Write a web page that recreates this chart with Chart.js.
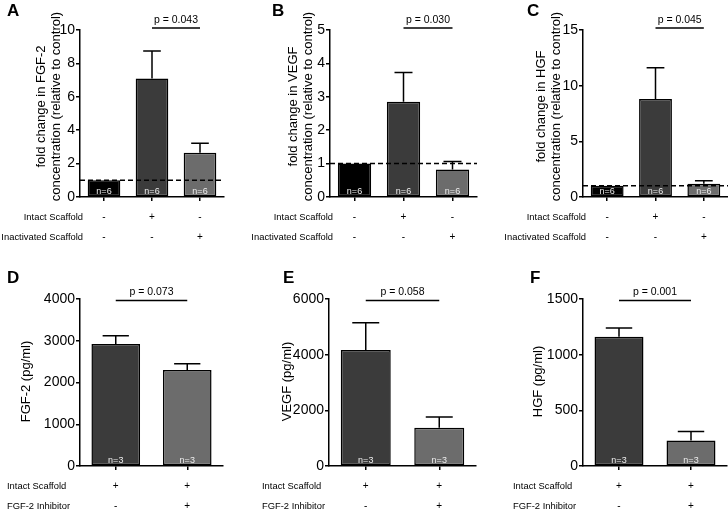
<!DOCTYPE html>
<html>
<head>
<meta charset="utf-8">
<script src="https://cdn.jsdelivr.net/npm/chart.js@4.4.1/dist/chart.umd.min.js"></script>
<style>
  html, body { margin: 0; padding: 0; background: #fff; }
  .figure { position: relative; width: 728px; height: 511px; overflow: hidden; }
  .figure canvas { position: absolute; }
</style>
</head>
<body>
<div class="figure">
  <canvas id="chartA" width="243" height="255" style="left:0;top:0"></canvas>
  <canvas id="chartB" width="243" height="255" style="left:243px;top:0"></canvas>
  <canvas id="chartC" width="242" height="255" style="left:486px;top:0"></canvas>
  <canvas id="chartD" width="243" height="256" style="left:0;top:255px"></canvas>
  <canvas id="chartE" width="243" height="256" style="left:243px;top:255px"></canvas>
  <canvas id="chartF" width="242" height="256" style="left:486px;top:255px"></canvas>
</div>
<script>
// top row: fold change vs control
const topGroups = ['control', 'intact', 'inactivated'];
const topRowLabels = ['Intact Scaffold', 'Inactivated Scaffold'];
const topIntactSigns = ['-', '+', '-'];
const topInactivatedSigns = ['-', '-', '+'];
const topCounts = ['n=6', 'n=6', 'n=6'];

const fgfFold = [1.0, 7.1, 2.65];
const fgfFoldErr = [0, 1.65, 0.57];
const vegfFold = [1.0, 2.85, 0.82];
const vegfFoldErr = [0, 0.88, 0.24];
const hgfFold = [1.0, 8.8, 1.2];
const hgfFoldErr = [0, 2.8, 0.25];

const fgfFoldTicks = [0, 2, 4, 6, 8, 10];
const vegfFoldTicks = [0, 1, 2, 3, 4, 5];
const hgfFoldTicks = [0, 5, 10, 15];

const topPValues = ['0.043', '0.030', '0.045'];
const topCompared = [1, 2];
const foldReference = 1;

// bottom row: absolute concentrations
const bottomGroups = ['scaffold', 'scaffold + inhibitor'];
const bottomRowLabels = ['Intact Scaffold', 'FGF-2 Inhibitor'];
const bottomIntactSigns = ['+', '+'];
const bottomInhibitorSigns = ['-', '+'];
const bottomCounts = ['n=3', 'n=3'];

const fgfConc = [2920, 2300];
const fgfConcErr = [200, 150];
const vegfConc = [4170, 1370];
const vegfConcErr = [980, 390];
const hgfConc = [1160, 230];
const hgfConcErr = [80, 80];

const fgfConcTicks = [0, 1000, 2000, 3000, 4000];
const vegfConcTicks = [0, 2000, 4000, 6000];
const hgfConcTicks = [0, 500, 1000, 1500];

const bottomPValues = ['0.073', '0.058', '0.001'];
const bottomCompared = [0, 1];

const FONT = '"Liberation Sans", Arial, Helvetica, sans-serif';
const topFills = ['#000000', '#3b3b3b', '#6c6c6c'];
const bottomFills = ['#3b3b3b', '#6c6c6c'];

Chart.defaults.font.family = FONT;
Chart.defaults.color = '#000';

const makeOverlay = (panel) => ({
  id: `overlay${panel.letter}`,
  afterDatasetsDraw(chart) {
    const { ctx, chartArea, scales } = chart;
    const xs = scales.x;
    const ys = scales.y;
    const meta = chart.getDatasetMeta(0);
    ctx.save();
    ctx.strokeStyle = '#000';
    ctx.lineWidth = 1.5;

    // dashed control level
    if (panel.reference !== undefined) {
      const yRef = ys.getPixelForValue(panel.reference);
      ctx.setLineDash([5, 3]);
      ctx.beginPath();
      ctx.moveTo(chartArea.left, yRef);
      ctx.lineTo(chartArea.right, yRef);
      ctx.stroke();
      ctx.setLineDash([]);
    }

    // upper SEM bars
    panel.values.forEach((v, i) => {
      const err = panel.errors[i];
      if (!err) return;
      const cx = xs.getPixelForValue(i);
      const half = meta.data[i].width * 0.27;
      const yBar = ys.getPixelForValue(v);
      const yTop = ys.getPixelForValue(v + err);
      ctx.beginPath();
      ctx.moveTo(cx, yBar);
      ctx.lineTo(cx, yTop);
      ctx.moveTo(cx - half, yTop);
      ctx.lineTo(cx + half, yTop);
      ctx.stroke();
    });

    // group sizes inside bars
    const yZero = ys.getPixelForValue(0);
    ctx.font = `9px ${FONT}`;
    ctx.fillStyle = '#ededed';
    ctx.textAlign = 'center';
    ctx.textBaseline = 'middle';
    panel.counts.forEach((n, i) => {
      ctx.fillText(n, xs.getPixelForValue(i), yZero - 5);
    });

    // significance bracket
    const yBracket = chartArea.top + panel.bracketShift;
    const x1 = xs.getPixelForValue(panel.compared[0]);
    const x2 = xs.getPixelForValue(panel.compared[1]);
    ctx.beginPath();
    ctx.moveTo(x1, yBracket);
    ctx.lineTo(x2, yBracket);
    ctx.stroke();
    ctx.fillStyle = '#000';
    ctx.font = `10.5px ${FONT}`;
    ctx.fillText(`p = ${panel.pValue}`, (x1 + x2) / 2, yBracket - 8);

    // treatment rows below the axis
    const rowY = [chartArea.bottom + 20, chartArea.bottom + 40];
    panel.rows.forEach((signs, r) => {
      ctx.font = `10px ${FONT}`;
      ctx.textAlign = 'center';
      signs.forEach((s, i) => {
        ctx.fillText(s, xs.getPixelForValue(i), rowY[r]);
      });
      ctx.font = `9.4px ${FONT}`;
      if (panel.rowAlign === 'right') {
        ctx.textAlign = 'right';
        ctx.fillText(panel.rowLabels[r], chartArea.left + 3, rowY[r]);
      } else {
        ctx.textAlign = 'left';
        ctx.fillText(panel.rowLabels[r], panel.rowLeft, rowY[r]);
      }
    });

    // y axis title, rotated
    const titleLines = Array.isArray(panel.title) ? panel.title : [panel.title];
    ctx.font = `13px ${FONT}`;
    ctx.textAlign = 'center';
    ctx.translate(panel.titleX, (chartArea.top + chartArea.bottom) / 2 + panel.titleShift);
    ctx.rotate(-Math.PI / 2);
    titleLines.forEach((line, k) => {
      ctx.fillText(line, 0, k * 15);
    });
    ctx.setTransform(1, 0, 0, 1, 0, 0);

    // panel letter
    ctx.font = `bold 17px ${FONT}`;
    ctx.textAlign = 'left';
    ctx.textBaseline = 'alphabetic';
    ctx.fillText(panel.letter, panel.letterX, panel.letterY);
    ctx.restore();
  },
});

const buildPanel = (panel) => {
  const axisLine = { display: true, color: '#000', width: 1.5 };
  return new Chart(document.getElementById(`chart${panel.letter}`), {
    type: 'bar',
    data: {
      labels: panel.groups,
      datasets: [
        {
          data: panel.values,
          backgroundColor: panel.fills,
          borderColor: '#000',
          borderWidth: 1.5,
          borderSkipped: false,
          categoryPercentage: 1,
          barPercentage: 0.68,
        },
      ],
    },
    options: {
      responsive: false,
      animation: false,
      devicePixelRatio: 1,
      layout: { padding: { left: 0, top: panel.plotTop, right: panel.padRight, bottom: 0 } },
      plugins: { legend: { display: false }, tooltip: { enabled: false } },
      scales: {
        x: {
          type: 'category',
          offset: true,
          border: axisLine,
          grid: {
            display: true,
            drawOnChartArea: false,
            drawTicks: true,
            tickLength: 4,
            offset: false,
            color: '#000',
            lineWidth: 1.5,
          },
          ticks: { display: false },
          afterFit: (scale) => { scale.height = panel.xHeight; },
        },
        y: {
          min: panel.ticks[0],
          max: panel.ticks[panel.ticks.length - 1],
          border: axisLine,
          grid: {
            display: true,
            drawOnChartArea: false,
            drawTicks: true,
            tickLength: 4,
            color: '#000',
            lineWidth: 1.5,
          },
          ticks: {
            stepSize: panel.ticks[1] - panel.ticks[0],
            font: { size: 14 },
            color: '#000',
            padding: 1,
            callback: (value) => String(value),
          },
          title: { display: false },
          afterFit: (scale) => { scale.width = panel.axisX; },
        },
      },
    },
    plugins: [makeOverlay(panel)],
  });
};

const topShared = {
  groups: topGroups,
  fills: topFills,
  counts: topCounts,
  compared: topCompared,
  reference: foldReference,
  rows: [topIntactSigns, topInactivatedSigns],
  rowLabels: topRowLabels,
  rowAlign: 'right',
  plotTop: 30,
  xHeight: 58,
  bracketShift: -2,
  letterY: 16,
  titleShift: -7,
};

const bottomShared = {
  groups: bottomGroups,
  fills: bottomFills,
  counts: bottomCounts,
  compared: bottomCompared,
  rows: [bottomIntactSigns, bottomInhibitorSigns],
  rowLabels: bottomRowLabels,
  rowAlign: 'left',
  plotTop: 44,
  xHeight: 45,
  bracketShift: 1.5,
  letterY: 28,
  titleShift: -1,
};

const panels = [
  { ...topShared, letter: 'A', values: fgfFold, errors: fgfFoldErr, ticks: fgfFoldTicks,
    title: ['fold change in FGF-2', 'concentration (relative to control)'], pValue: topPValues[0],
    axisX: 80, padRight: 19, titleX: 41, letterX: 7 },
  { ...topShared, letter: 'B', values: vegfFold, errors: vegfFoldErr, ticks: vegfFoldTicks,
    title: ['fold change in VEGF', 'concentration (relative to control)'], pValue: topPValues[1],
    axisX: 87, padRight: 9, titleX: 50, letterX: 29 },
  { ...topShared, letter: 'C', values: hgfFold, errors: hgfFoldErr, ticks: hgfFoldTicks,
    title: ['fold change in HGF', 'concentration (relative to control)'], pValue: topPValues[2],
    axisX: 97, padRight: 0, titleX: 55, letterX: 41 },
  { ...bottomShared, letter: 'D', values: fgfConc, errors: fgfConcErr, ticks: fgfConcTicks,
    title: 'FGF-2 (pg/ml)', pValue: bottomPValues[0],
    axisX: 80, padRight: 20, titleX: 26, letterX: 7, rowLeft: 7 },
  { ...bottomShared, letter: 'E', values: vegfConc, errors: vegfConcErr, ticks: vegfConcTicks,
    title: 'VEGF (pg/ml)', pValue: bottomPValues[1],
    axisX: 86, padRight: 10, titleX: 44, letterX: 40, rowLeft: 19 },
  { ...bottomShared, letter: 'F', values: hgfConc, errors: hgfConcErr, ticks: hgfConcTicks,
    title: 'HGF (pg/ml)', pValue: bottomPValues[2],
    axisX: 97, padRight: 1, titleX: 52, letterX: 44, rowLeft: 27 },
];

panels.forEach((panel) => buildPanel(panel));
</script>
</body>
</html>
